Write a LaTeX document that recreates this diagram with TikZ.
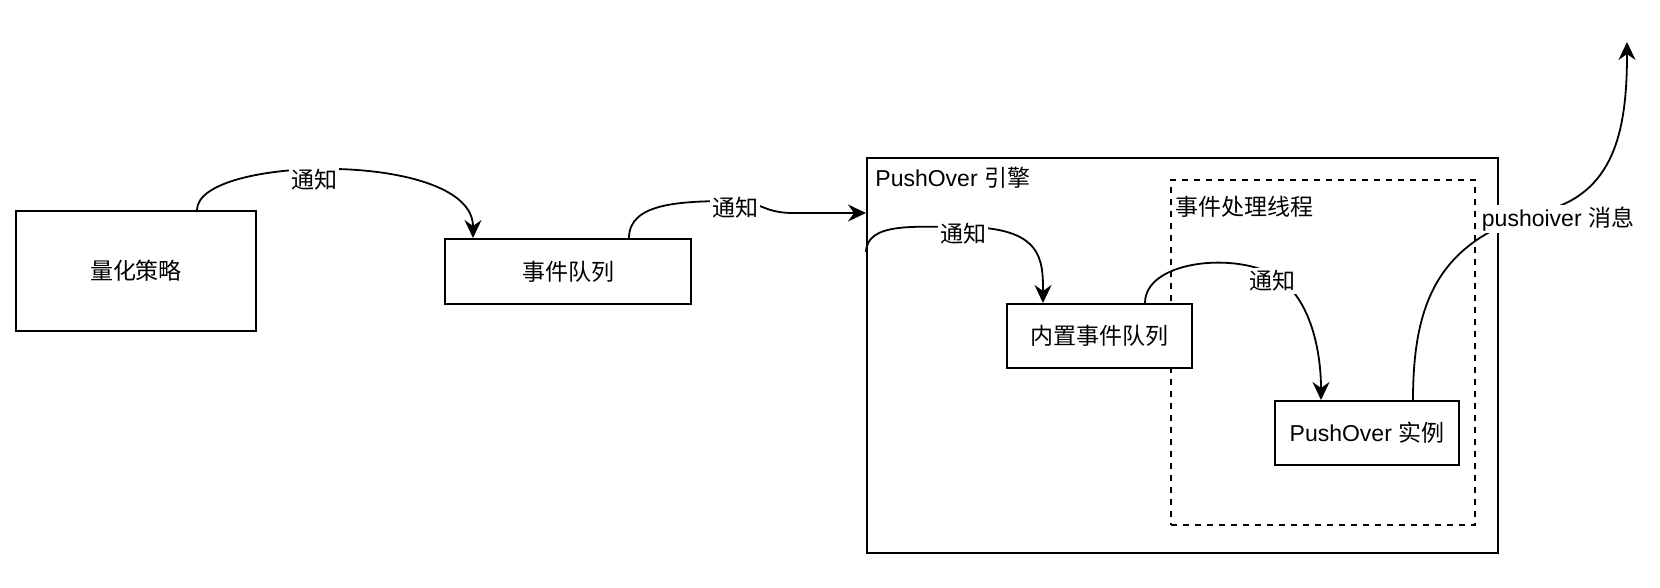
\documentclass[tikz,border=0pt]{standalone}
\usepackage{fontspec}
\setmainfont{Liberation Sans}
\newfontfamily\cjk{Noto Sans CJK SC}
\usetikzlibrary{arrows.meta}

\tikzset{
    box/.style={draw, fill=white, line width=1pt, inner sep=0pt},
    lbl/.style={fill=white, inner sep=1pt, yshift=-3.5pt},
    flow/.style={line width=0.9pt, -{Stealth[length=9pt, width=8.5pt, inset=3pt]}},
}

\begin{document}
\begin{tikzpicture}[x=0.5pt, y=-0.5pt, font=\fontsize{11.5}{14}\selectfont]
        \useasboundingbox (0,0) rectangle (1660,588);

        % engine and its thread
        \node[draw, line width=1pt, minimum width=315.5pt, minimum height=197.5pt] (engine) at (1182.5,355.5) {};
        \node[anchor=west, inner sep=0pt] (enginetitle) at (875,178) {PushOver {\cjk 引擎}};
        \node[draw, dash pattern=on 3pt off 3pt, line width=1pt, minimum width=152pt, minimum height=172.5pt] (thread) at (1323,352.5) {};
        \node[anchor=west, inner sep=0pt] (threadtitle) at (1175,207) {\cjk 事件处理线程};

        \node[box, minimum width=120pt, minimum height=60pt] (strategy) at (136,271) {\cjk 量化策略};
        \node[box, minimum width=123pt, minimum height=32.5pt] (queue) at (568,271.5) {\cjk 事件队列};
        \node[box, minimum width=92.5pt, minimum height=32pt] (inner) at (1099.5,336) {\cjk 内置事件队列};
        \node[box, minimum width=92pt, minimum height=32pt] (instance) at (1367,433) {PushOver {\cjk 实例}};
        \coordinate (pushout) at (1627,42);

        % notifications
        \draw[flow] ([xshift=30.5pt]strategy.north) .. controls (197,155) and (473,150) .. ([xshift=-47.5pt]queue.north) node[lbl, pos=0.45, yshift=-1.5pt] {\cjk 通知};
        \draw[flow] ([xshift=30.5pt]queue.north) .. controls (629,203) and (680,201) .. (735,201) node[lbl] {\cjk 通知} .. controls (760,201) and (762,212) .. (790,213) -- ([yshift=-28pt]engine.north west);
        \draw[flow] ([yshift=-47.5pt]engine.north west) .. controls (867,222) and (915,227) .. (963,227) node[lbl] {\cjk 通知} .. controls (1043,227) and (1043,260) .. ([xshift=-28.25pt]inner.north);
        \draw[flow] ([xshift=22.75pt]inner.north) .. controls (1145,262) and (1230,252) .. (1272,274) node[lbl] {\cjk 通知} .. controls (1310,294) and (1321,350) .. ([xshift=-23pt]instance.north);
        \draw[flow] ([xshift=23pt]instance.north) .. controls (1413,300) and (1440,240) .. (1540,212) node[lbl, xshift=9pt] {pushoiver {\cjk 消息}} .. controls (1615,195) and (1627,130) .. (pushout);
\end{tikzpicture}
\end{document}
